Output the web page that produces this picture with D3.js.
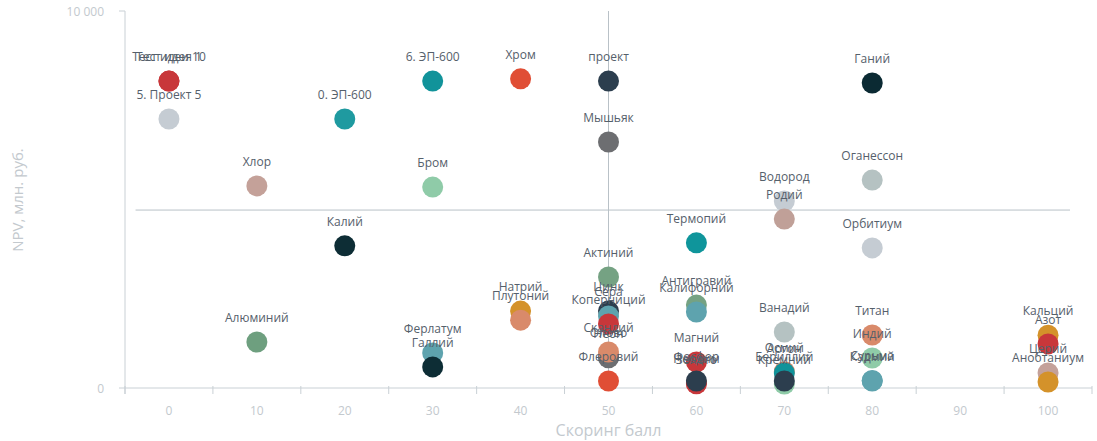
<!DOCTYPE html>
<html>
<head>
<meta charset="utf-8">
<script src="https://cdn.jsdelivr.net/npm/d3@7"></script>
<style>
  body { margin: 0; background: #fff; }
  text { font-family: "Open Sans", "Noto Sans", sans-serif; }
</style>
</head>
<body>
<svg id="chart" width="1097" height="441"></svg>
<script>
// chart data
var names = [
    "Тест идея 1", "Тест идеи 10", "5. Проект 5", "Хлор", "Алюминий",
    "0. ЭП-600", "Калий", "6. ЭП-600", "Бром", "Ферлатум", "Галлий",
    "Хром", "Натрий", "Плутоний",
    "проект", "Мышьяк", "Актиний", "Цинк", "Сера", "Коперниций",
    "Неон", "Олово", "Скандий", "Флеровий",
    "Термопий", "Антигравий", "Калифорний", "Магний", "Неодим", "Золото", "Фосфор",
    "Водород", "Родий", "Ванадий", "Кремний", "Осмий", "Аргон", "Бериллий",
    "Ганий", "Оганессон", "Орбитиум", "Титан", "Индий", "Сурьма", "Кадмий",
    "Кальций", "Азот", "Церий", "Анобтаниум"
];
var scores = [
    0, 0, 0, 10, 10,
    20, 20, 30, 30, 30, 30,
    40, 40, 40,
    50, 50, 50, 50, 50, 50,
    50, 50, 50, 50,
    60, 60, 60, 60, 60, 60, 60,
    70, 70, 70, 70, 70, 70, 70,
    80, 80, 80, 80, 80, 80, 80,
    100, 100, 100, 100
];
var npv = [
    8140, 8140, 7135, 5360, 1220,
    7135, 3770, 8140, 5330, 930, 560,
    8200, 2040, 1800,
    8140, 6525, 2945, 2040, 1910, 1700,
    800, 830, 955, 185,
    3850, 2200, 2015, 690, 130, 110, 185,
    4960, 4480, 1485, 105, 430, 400, 185,
    8090, 5515, 3715, 1405, 795, 200, 185,
    1400, 1170, 400, 160
];
var colors = [
    "#c8373a", "#c8373a", "#c5ccd3", "#c4a199", "#6e9f7f",
    "#1f9aa0", "#0d2d35", "#11939a", "#8fcba8", "#5ea3ae", "#0d2d35",
    "#e04e35", "#d4922a", "#d98a6a",
    "#2c3e4e", "#6d6e71", "#75a283", "#2c3e4e", "#5ea3ae", "#c8373a",
    "#6d6e71", "#6d6e71", "#d98a6a", "#e04e35",
    "#0f959b", "#75a283", "#5ea3ae", "#c8373a", "#e04e35", "#c8373a", "#2c3e4e",
    "#c5ccd3", "#c0a098", "#b5c2c2", "#8fcba8", "#d98a6a", "#11939a", "#2c3e4e",
    "#0b2a33", "#b5c2c2", "#c5ccd3", "#d98a6a", "#8fcba8", "#5ea3ae", "#5ea3ae",
    "#d4922a", "#c8373a", "#c4a199", "#d4922a"
];
var xTicks = [0, 10, 20, 30, 40, 50, 60, 70, 80, 90, 100];
var xTickMarks = [-5, 5, 15, 25, 35, 45, 55, 65, 75, 85, 95, 105];
var yTicks = [0, 10000];
var refScore = 50;
var refNpv = 4720;

var svg = d3.select("#chart");

var xScale = d3.scaleLinear()
    .domain([-5, 105])
    .range([125, 1092]);

var yScale = d3.scaleLinear()
    .domain([0, 10000])
    .range([388, 11]);

var axisColor = "#c9d0d5";

// x axis: line, marks between labels, labels without ticks
var gx = svg.append("g").attr("class", "axis axis-bottom");
gx.append("line")
    .attr("x1", xScale(-5)).attr("x2", xScale(105))
    .attr("y1", yScale(0)).attr("y2", yScale(0))
    .attr("stroke", axisColor);
gx.selectAll(".tick-mark").data(xTickMarks).enter().append("line")
    .attr("x1", d => xScale(d)).attr("x2", d => xScale(d))
    .attr("y1", yScale(0) - 2).attr("y2", yScale(0) + 6)
    .attr("stroke", axisColor);
gx.selectAll(".tick-label").data(xTicks).enter().append("text")
    .attr("x", d => xScale(d))
    .attr("y", yScale(0) + 27)
    .attr("text-anchor", "middle")
    .attr("font-size", 12)
    .attr("fill", "#c3c9ce")
    .text(d => d);

// y axis
var gy = svg.append("g").attr("class", "axis axis-left");
gy.append("line")
    .attr("x1", xScale(-5)).attr("x2", xScale(-5))
    .attr("y1", yScale(10000)).attr("y2", yScale(0) + 6)
    .attr("stroke", axisColor);
gy.selectAll(".tick-mark").data(yTicks).enter().append("line")
    .attr("x1", xScale(-5) - 6).attr("x2", xScale(-5))
    .attr("y1", d => yScale(d)).attr("y2", d => yScale(d))
    .attr("stroke", axisColor);
gy.selectAll(".tick-label").data(yTicks).enter().append("text")
    .attr("x", xScale(-5) - 21)
    .attr("y", d => yScale(d) + 5)
    .attr("text-anchor", "end")
    .attr("font-size", 12)
    .attr("fill", "#c3c9ce")
    .text(d => d3.format(",")(d).replace(",", " "));

// axis titles
svg.append("text")
    .attr("x", xScale(50))
    .attr("y", 436)
    .attr("text-anchor", "middle")
    .attr("font-size", 16)
    .attr("fill", "#c3c9ce")
    .text("Скоринг балл");

svg.append("text")
    .attr("transform", "translate(23," + 200 + ") rotate(-90)")
    .attr("text-anchor", "middle")
    .attr("font-size", 15)
    .attr("fill", "#c3c9ce")
    .text("NPV, млн. руб.");

// reference lines
svg.append("line")
    .attr("x1", xScale(refScore)).attr("x2", xScale(refScore))
    .attr("y1", yScale(10000)).attr("y2", yScale(0))
    .attr("stroke", "#b9c1c7");
svg.append("line")
    .attr("x1", xScale(-3.8)).attr("x2", xScale(102.5))
    .attr("y1", yScale(refNpv)).attr("y2", yScale(refNpv))
    .attr("stroke", "#b9c1c7");

var points = names.map((n, i) => ({ name: n, score: scores[i], npv: npv[i], color: colors[i] }));

// bubbles
svg.append("g").selectAll("circle").data(points).enter().append("circle")
    .attr("cx", d => xScale(d.score))
    .attr("cy", d => yScale(d.npv))
    .attr("r", 10.5)
    .attr("fill", d => d.color);

// labels
svg.append("g").selectAll("text").data(points).enter().append("text")
    .attr("x", d => xScale(d.score))
    .attr("y", d => yScale(d.npv) - 20)
    .attr("text-anchor", "middle")
    .attr("font-size", 12)
    .attr("fill", "#55606b")
    .text(d => d.name);
</script>
</body>
</html>
